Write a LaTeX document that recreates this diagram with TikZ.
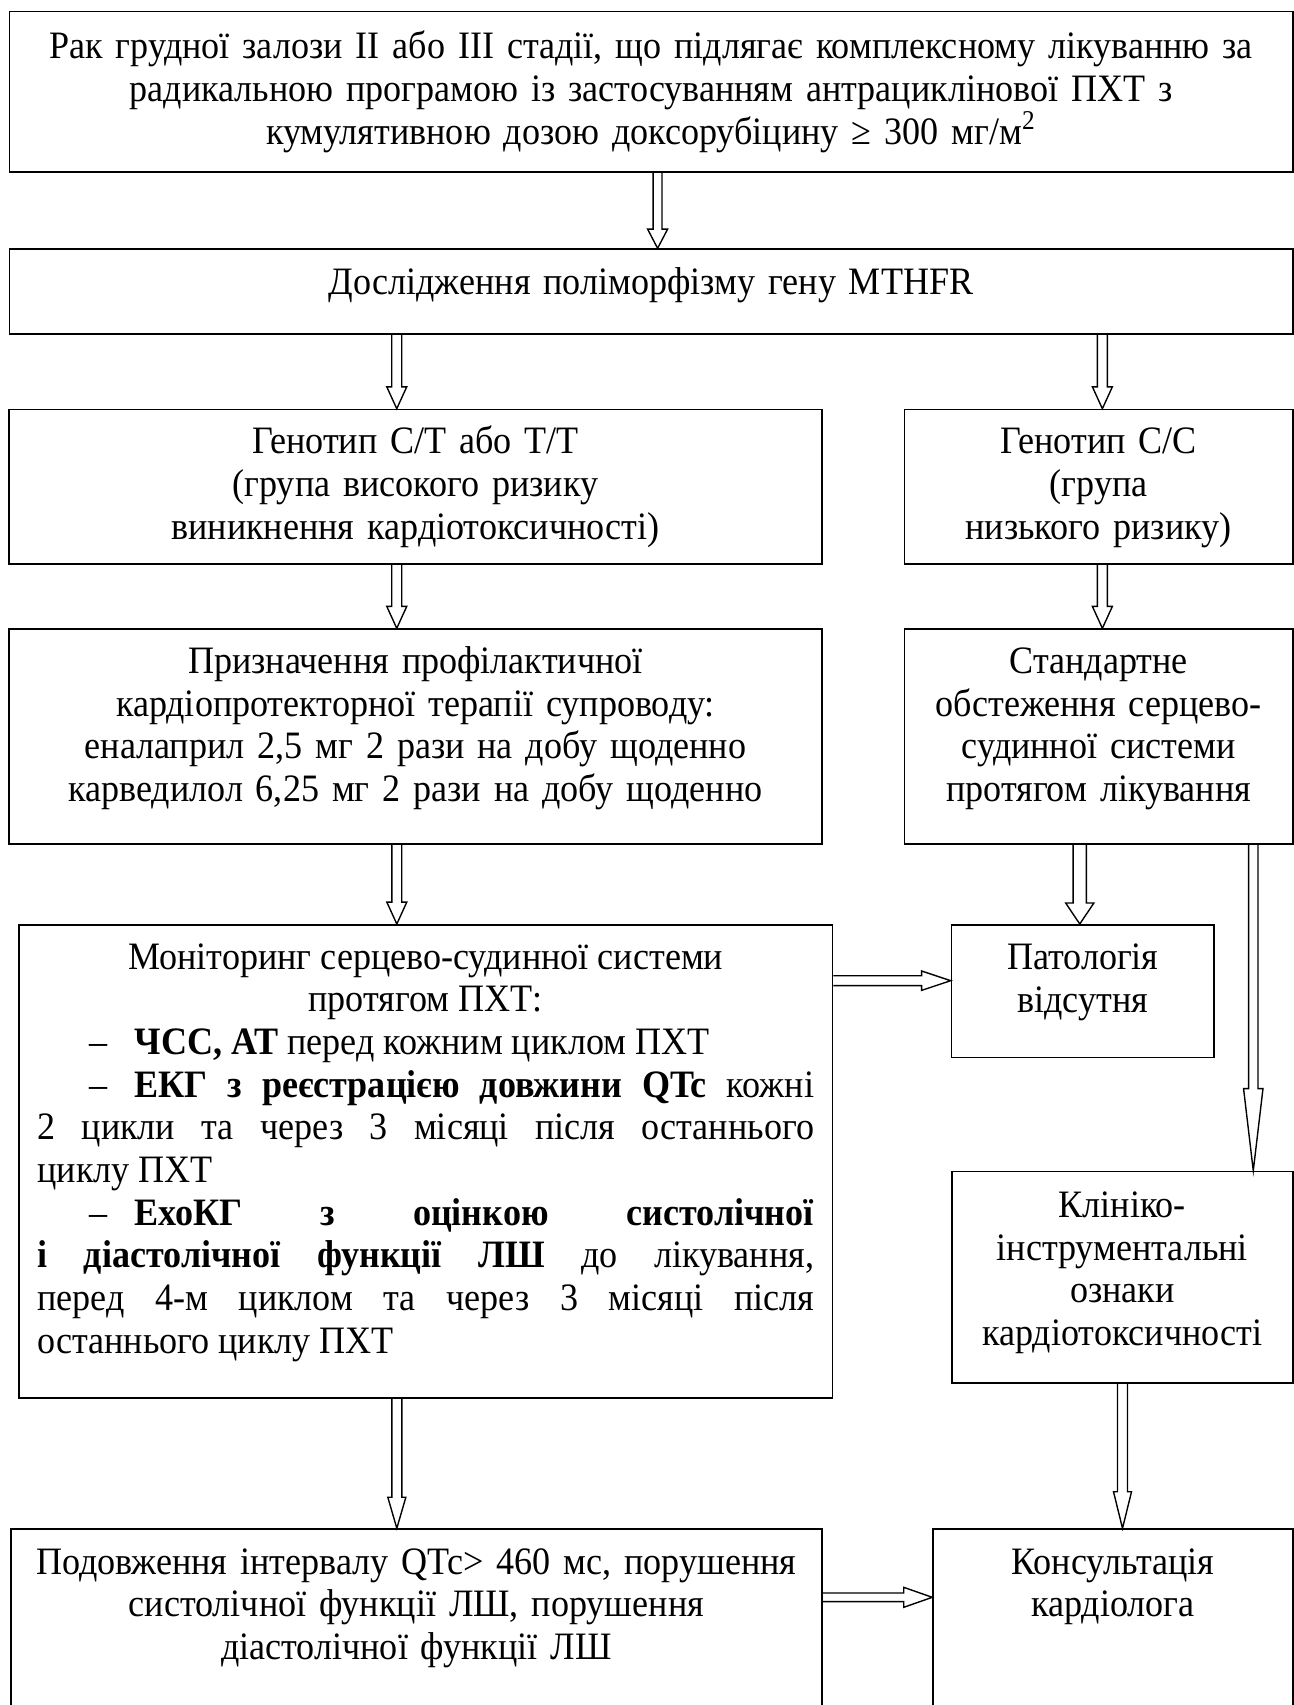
\documentclass[tikz,border=0pt]{standalone}
\usepackage{fontspec}
\setmainfont[FakeStretch=0.93]{Liberation Serif}
\usetikzlibrary{calc}

\tikzset{
  box/.style={draw, line width=0.6pt, anchor=north west, inner xsep=0pt, inner ysep=0pt,
    align=center, font=\fontsize{14pt}{15.4pt}\selectfont},
  shaftw/.store in=\shaftw, headw/.store in=\headw, headl/.store in=\headl,
  hollow/.style={line width=0.5pt, line join=miter, shaftw=1.8pt, headw=3.6pt, headl=7.9pt}
}

\newcommand{\arrowdown}[3][]{\draw[hollow,#1] let \p1=(#2), \p2=(#3) in
  (\x2-\shaftw,\y1) -- (\x2-\shaftw,\y2+\headl) -- (\x2-\headw,\y2+\headl) -- (\x2,\y2)
  -- (\x2+\headw,\y2+\headl) -- (\x2+\shaftw,\y2+\headl) -- (\x2+\shaftw,\y1);}
\newcommand{\arrowright}[3][]{\draw[hollow,#1] let \p1=(#2), \p2=(#3) in
  (\x1,\y2+\shaftw) -- (\x2-\headl,\y2+\shaftw) -- (\x2-\headl,\y2+\headw) -- (\x2,\y2)
  -- (\x2-\headl,\y2-\headw) -- (\x2-\headl,\y2-\shaftw) -- (\x1,\y2-\shaftw);}

\begin{document}
\begin{tikzpicture}[x=0.3608pt, y=-0.3608pt]

\useasboundingbox (0,0) rectangle (1294,1705);

\node[box, text width=463.1pt, text height=17pt, text depth=40.8pt] (cancer) at (8.5,10.7)
  {Рак грудної залози II або III стадії, що підлягає комплексному лікуванню за\\
   радикальною програмою із застосуванням антрациклінової ПХТ з\\
   кумулятивною дозою доксорубіцину ≥ 300 мг/м\textsuperscript{2}};
\node[box, text width=463.1pt, text height=16.2pt, text depth=14.3pt] (mthfr) at (8.5,248.3)
  {Дослідження поліморфізму гену MTHFR};

\node[box, text width=293.2pt, text height=16pt, text depth=39.8pt] (gen1) at (8.3,408.7)
  {Генотип C/T або T/T\\(група високого ризику\\виникнення кардіотоксичності)};
\node[box, text width=140.2pt, text height=16pt, text depth=39.8pt] (gen2) at (903.5,408.7)
  {Генотип C/C\\(група\\низького ризику)};

\node[box, text width=293.2pt, text height=16pt, text depth=61.4pt] (drug) at (8.3,628.3)
  {Призначення профілактичної\\кардіопротекторної терапії супроводу:\\
   еналаприл 2,5 мг 2 рази на добу щоденно\\карведилол 6,25 мг 2 рази на добу щоденно};
\node[box, text width=140.2pt, text height=16pt, text depth=61.4pt] (std) at (903.5,628.3)
  {Стандартне\\обстеження серцево-\\судинної системи\\протягом лікування};

\node[box, align=justify, inner xsep=6.7pt, text width=280.2pt, text height=16pt, text depth=154.6pt] (mon) at (18,924)
  {{\centering Моніторинг серцево-судинної системи\par протягом ПХТ:\par}
   \hspace*{18.8pt}\makebox[16.3pt][l]{–}\textbf{ЧСС, АТ} перед кожним циклом ПХТ\par
   \hspace*{18.8pt}\makebox[16.3pt][l]{–}\textbf{ЕКГ з реєстрацією довжини QTc} кожні\linebreak
   2 цикли та через 3 місяці після останнього\linebreak
   циклу ПХТ\par
   \hspace*{18.8pt}\makebox[16.3pt][l]{–}\textbf{ЕхоКГ з оцінкою систолічної}\linebreak
   \textbf{і діастолічної функції ЛШ} до лікування,\linebreak
   перед 4-м циклом та через 3 місяці після\linebreak
   останнього циклу ПХТ};
\node[box, text width=94.7pt, text height=16.2pt, text depth=31.6pt] (pat) at (950.7,924)
  {Патологія\\відсутня};
\node[box, text width=123pt, text height=16.6pt, text depth=59.8pt] (clin) at (951,1170.7)
  {Клініко-\\інструментальні\\ознаки\\кардіотоксичності};

\node[box, text width=292.6pt, text height=16.2pt, text depth=72.2pt] (low) at (10,1528.3)
  {Подовження інтервалу QTc> 460 мс, порушення\\систолічної функції ЛШ, порушення\\
   діастолічної функції ЛШ};
\node[box, text width=129.8pt, text height=16.2pt, text depth=72.2pt] (cons) at (932.3,1528.3)
  {Консультація\\кардіолога};

\arrowdown[shaftw=1.6pt, headl=6.9pt]{cancer.south}{$(mthfr.north)+(6.5,0)$}
\arrowdown{mthfr.south}{$(gen1.north)+(-18.7,0)$}
\arrowdown{mthfr.south}{$(gen2.north)+(3.75,0)$}
\arrowdown{gen1.south}{$(drug.north)+(-18.7,0)$}
\arrowdown{gen2.south}{$(std.north)+(3.75,0)$}
\arrowdown{drug.south}{$(mon.north)+(-28.9,0)$}
\arrowdown[shaftw=2.4pt, headw=5.1pt, headl=7.6pt]{std.south}{$(pat.north)+(-3,0)$}
\arrowdown[shaftw=1.7pt, headw=3.5pt, headl=29.6pt]{std.south}{$(clin.north east)+(-40.3,0)$}
\arrowdown[headw=3.25pt, headl=11.2pt]{mon.south}{$(low.north)+(-19.5,0)$}
\arrowdown[headw=3.25pt, headl=13.2pt]{clin.south}{$(cons.north)+(9.5,0)$}
\arrowright[headw=3.5pt, headl=10.5pt]{mon.east}{$(pat.west)+(0,-10.4)$}
\arrowright[shaftw=1.55pt, headl=10.3pt]{low.east}{$(cons.north west)+(0,69)$}

\end{tikzpicture}
\end{document}
